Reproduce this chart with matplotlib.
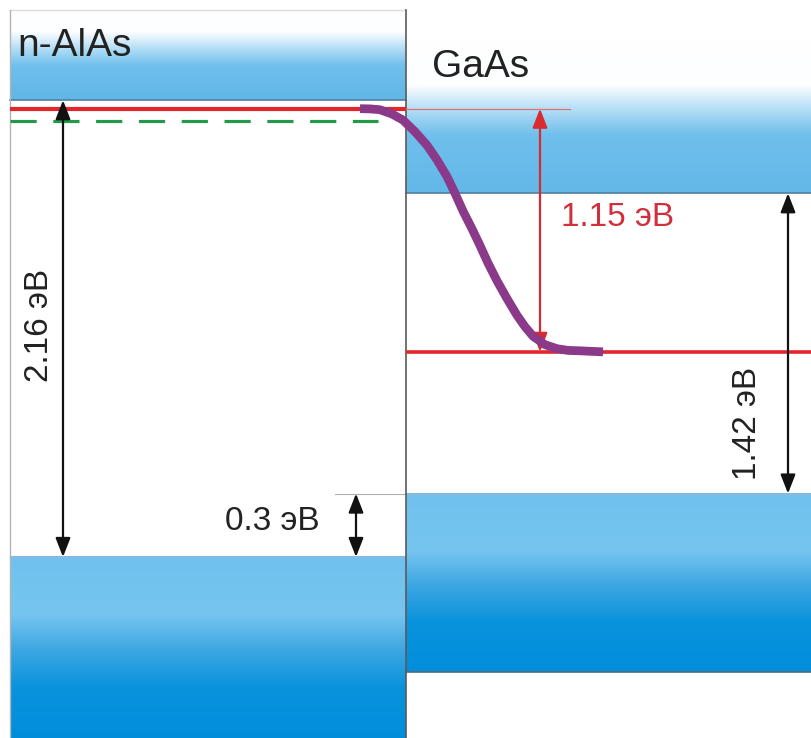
import numpy as np
import matplotlib
matplotlib.use("Agg")
import matplotlib.pyplot as plt
from matplotlib.colors import LinearSegmentedColormap

plt.rcParams['font.family'] = ['Liberation Sans', 'DejaVu Sans']

# ---- band energies (eV), AlAs valence band edge as reference ----
Eg_AlAs = 2.16
Eg_GaAs = 1.42
dEv = 0.30
Ev_AlAs = 0.0
Ec_AlAs = Ev_AlAs + Eg_AlAs
Ev_GaAs = Ev_AlAs + dEv
Ec_GaAs = Ev_GaAs + Eg_GaAs
EF_AlAs = 2.12
EF_shift = 1.15
EF_GaAs = EF_AlAs - EF_shift
E_donor = 2.06

labels = ["n-AlAs", "GaAs"]
gap_labels = ["2.16 эВ", "0.3 эВ", "1.15 эВ", "1.42 эВ"]

# bent conduction-band profile (position, energy)
bend_x = [360, 370, 380, 392, 403, 415, 427, 437, 447, 455, 463, 472, 480,
          488, 497, 507, 517, 525, 533, 545, 557, 568, 580, 603]
bend_E = [2.120, 2.119, 2.115, 2.095, 2.066, 2.011, 1.947, 1.878, 1.799,
          1.720, 1.636, 1.552, 1.473, 1.390, 1.306, 1.222, 1.143, 1.089,
          1.044, 1.004, 0.985, 0.977, 0.975, 0.970]

W, H = 811, 738
fig = plt.figure(figsize=(W / 100, H / 100), dpi=100)
ax = fig.add_axes([0, 0, 1, 1])
ax.set_xlim(0, W)
ax.set_ylim(-0.856, 2.634)
ax.axis('off')

xL0, xJ, xR1 = 10, 406, 811

def rgb(r, g, b):
    return (r / 255, g / 255, b / 255)

cb_left = LinearSegmentedColormap.from_list('cbl', [
    (0.0, rgb(255, 255, 255)), (0.25, rgb(252, 254, 255)), (0.42, rgb(185, 224, 246)),
    (0.62, rgb(112, 191, 236)), (1.0, rgb(96, 183, 232))])
cb_right = LinearSegmentedColormap.from_list('cbr', [
    (0.0, rgb(255, 255, 255)), (0.30, rgb(252, 254, 255)), (0.42, rgb(195, 229, 247)),
    (0.62, rgb(112, 191, 236)), (1.0, rgb(98, 184, 232))])
vb = LinearSegmentedColormap.from_list('vb', [
    (0.0, rgb(112, 193, 238)), (0.32, rgb(118, 197, 240)), (0.52, rgb(60, 166, 226)),
    (0.72, rgb(10, 147, 221)), (1.0, rgb(0, 142, 219))])

grad = np.linspace(0, 1, 256).reshape(-1, 1)

def band(x0, x1, e_top, e_bot, cmap):
    ax.imshow(grad, cmap=cmap, extent=(x0, x1, e_bot, e_top), aspect='auto',
              origin='upper', interpolation='bicubic', zorder=1)

# band blocks
band(xL0, xJ, 2.586, Ec_AlAs, cb_left)
band(xJ, xR1, 2.445, Ec_GaAs, cb_right)
band(xL0, xJ, Ev_AlAs, -0.856, vb)
band(xJ, xR1, Ev_GaAs, -0.542, vb)

# band edges and block outlines
ax.plot([xL0, xJ], [Ec_AlAs, Ec_AlAs], color='#4f7f9c', lw=1.2, zorder=2)
ax.plot([xJ, xR1], [Ec_GaAs, Ec_GaAs], color='#4f7f9c', lw=1.2, zorder=2)
ax.plot([xL0, xJ], [Ev_AlAs, Ev_AlAs], color='#8fb9d3', lw=1.0, zorder=2)
ax.plot([xJ, xR1], [Ev_GaAs, Ev_GaAs], color='#8fb9d3', lw=1.0, zorder=2)
ax.plot([xJ, xR1], [-0.542, -0.542], color='#4a6c84', lw=1.2, zorder=2)
ax.plot([xL0, xJ], [2.586, 2.586], color='#dcdcdc', lw=1.0, zorder=2)
ax.plot([xL0, xL0], [-0.856, 2.586], color='#b4b4b4', lw=1.0, zorder=2)
ax.plot([xJ, xJ], [-0.856, 2.586], color='#5a5a5a', lw=1.2, zorder=3)
ax.plot([335, xJ], [Ev_GaAs, Ev_GaAs], color='#b0b0b0', lw=0.8, zorder=2)

# Fermi levels and donor level
ax.plot([xL0, xJ], [EF_AlAs, EF_AlAs], color='#e2262c', lw=3.0, zorder=4,
        solid_capstyle='butt')
ax.plot([xJ, 570], [EF_AlAs, EF_AlAs], color='#e0707a', lw=0.9, zorder=4)
ax.plot([xJ, xR1], [EF_GaAs, EF_GaAs], color='#e2262c', lw=2.6, zorder=4,
        solid_capstyle='butt')
ax.plot([xL0, 378], [E_donor, E_donor], color='#23994a', lw=2.3, zorder=4,
        ls=(0, (8.2, 5.2)))

# band bending
ax.plot(bend_x, bend_E, color='#8a3a88', lw=6.3, zorder=6,
        solid_capstyle='butt', solid_joinstyle='round')

def dim_arrow(x, e0, e1, color, z=5):
    ax.annotate('', xy=(x, e1), xytext=(x, e0),
                arrowprops=dict(arrowstyle='<|-|>,head_length=1.15,head_width=0.45',
                                mutation_scale=10, color=color, lw=1.6,
                                shrinkA=0, shrinkB=0), zorder=z)

dim_arrow(63, Ev_AlAs, Ec_AlAs, '#111111', z=5)
dim_arrow(356, Ev_AlAs, Ev_GaAs, '#111111')
dim_arrow(540, EF_GaAs, EF_AlAs, '#d82a30', z=5)
dim_arrow(788, Ev_GaAs, Ec_GaAs, '#111111')

def ftext(x, y, s, **kw):
    fig.text(x / W, 1 - y / H, s, **kw)

ftext(17, 56, labels[0], fontsize=28, color='#222222', va='baseline', ha='left')
ftext(432, 77, labels[1], fontsize=28, color='#222222', va='baseline', ha='left')
ftext(40, 325, gap_labels[0], fontsize=24, color='#222222', rotation=90,
      ha='center', va='center')
ftext(272, 522, gap_labels[1], fontsize=24, color='#222222', ha='center', va='center')
ftext(618, 218, gap_labels[2], fontsize=24, color='#d0303c', ha='center', va='center')
ftext(748, 423, gap_labels[3], fontsize=24, color='#222222', rotation=90,
      ha='center', va='center')

fig.savefig('out.png', dpi=100, facecolor='white')
